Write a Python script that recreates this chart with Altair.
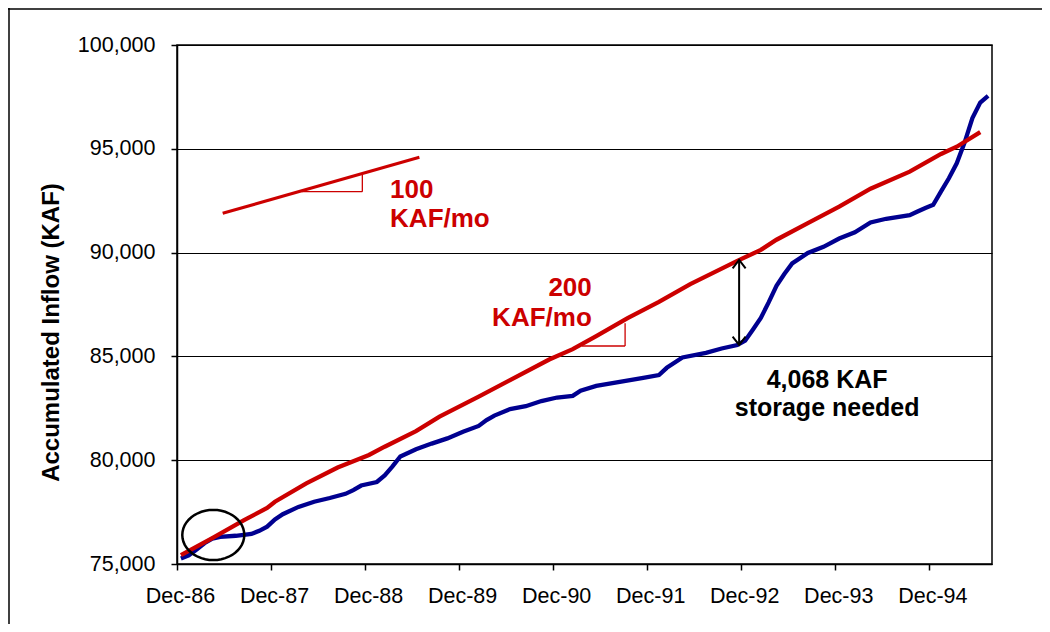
import math
import altair as alt
import pandas as pd

FONT = "Liberation Sans"
RED = "#CC0000"
BLUE = "#000090"

# ---- data (month index 0 = Dec-86) ----
blue_month = [0, 1, 2, 3, 4, 5, 7, 9, 10, 11, 12, 13, 15, 17, 19, 21, 22, 23,
              25, 26, 27, 28, 30, 32, 34, 36, 38, 39, 40, 42, 44, 46, 48, 50,
              51, 53, 56, 59, 61, 62, 64, 67, 69, 71, 72, 73, 74, 75, 76, 77,
              78, 80, 82, 84, 86, 88, 90, 93, 94, 95, 96, 97, 98, 99, 100,
              101, 102, 103]
blue_value = [75270, 75420, 75700, 76000, 76220, 76310, 76360, 76450, 76600,
              76800, 77150, 77400, 77750, 78000, 78180, 78380, 78560, 78780,
              78950, 79270, 79700, 80180, 80530, 80800, 81050, 81370, 81650,
              81930, 82150, 82460, 82600, 82850, 83020, 83100, 83350, 83580,
              83770, 83960, 84100, 84450, 84950, 85170, 85380, 85550, 85760,
              86300, 86850, 87600, 88400, 88970, 89480, 89980, 90280, 90680,
              90980, 91450, 91630, 91800, 91980, 92150, 92300, 92950, 93580,
              94300, 95300, 96480, 97230, 97550]

red_month = [0, 4, 8, 11, 12, 16, 20, 24, 26, 30, 33, 38, 42, 47, 50, 53, 57,
             61, 65, 71, 74, 76, 80, 84, 88, 93, 97, 99, 102]
red_value = [75430, 76250, 77100, 77700, 78000, 78880, 79650, 80250, 80650,
             81400, 82100, 83060, 83860, 84850, 85350, 85980, 86840, 87630,
             88480, 89600, 90130, 90620, 91420, 92210, 93080, 93900, 94750,
             95100, 95800]

tick_months = [0, 12, 24, 36, 48, 60, 72, 84, 96]
tick_labels = ["Dec-86", "Dec-87", "Dec-88", "Dec-89", "Dec-90", "Dec-91",
               "Dec-92", "Dec-93", "Dec-94"]
y_ticks = [75000, 80000, 85000, 90000, 95000, 100000]

# annotation positions (axis month units, KAF)
slope100_x = [5.83, 30.93]
slope100_y = [91893, 94590]
tri_x = [15.92, 23.65, 51.65, 57.18]      # x, x2 for the two triangles
tri_y = [92934, 93738, 85501, 86594]      # y, y2
arrow_x = 71.73
arrow_top = 89650
arrow_bottom = 85550
circle_x, circle_y = 4.63, 76397

texts = ["100\nKAF/mo", "200\nKAF/mo", "4,068 KAF\nstorage needed"]
text_x = [27.19, 52.93, 82.96]
text_y = [92630, 87909, 83492]
text_align = ["left", "right", "center"]
text_color = [RED, RED, "black"]
text_lh = [28.7, 29.7, 28]
text_size = [26, 26, 25]

W, H = 815, 519

series = pd.concat([
    pd.DataFrame({"month": blue_month, "kaf": blue_value, "s": "Inflow"}),
    pd.DataFrame({"month": red_month, "kaf": red_value, "s": "Demand"}),
])
series["x"] = series["month"] + 0.5   # category centre
series = series.rename(columns={"kaf": "y"})

label_expr = "[" + ",".join("'%s'" % t for t in tick_labels) + "][datum.value/12]"

xscale = alt.Scale(domain=[0, 104], nice=False, zero=False)
yscale = alt.Scale(domain=[75000, 100000], nice=False, zero=False)

x_axis = alt.Axis(values=tick_months, labelExpr=label_expr, grid=False,
                  title=None, labelBaseline="alphabetic", labelPadding=32.4,
                  labelOffset=3, labelFlush=False, labelOverlap=False)
y_axis = alt.Axis(values=y_ticks, labelExpr="format(datum.value, ',')",
                  grid=True, labelPadding=16,
                  title="Accumulated Inflow (KAF)", titleAngle=270,
                  titleAlign="center", titleBaseline="alphabetic",
                  titleX=-119, titleY=287)


def X(f="x"):
    return alt.X(f + ":Q", scale=xscale, axis=x_axis)


def Y(f="y"):
    return alt.Y(f + ":Q", scale=yscale, axis=y_axis)


lines = alt.Chart(series).mark_line(strokeWidth=4.3).encode(
    x=X(), y=Y(),
    color=alt.Color("s:N", scale=alt.Scale(domain=["Inflow", "Demand"],
                                           range=[BLUE, RED]), legend=None),
)

slope_df = pd.DataFrame({"x": [slope100_x[0]], "x2": [slope100_x[1]],
                         "y": [slope100_y[0]], "y2": [slope100_y[1]]})
slope = alt.Chart(slope_df).mark_rule(color=RED, strokeWidth=3).encode(
    x=X(), x2="x2:Q", y=Y(), y2="y2:Q")

hz_df = pd.DataFrame({"x": [tri_x[0], tri_x[2]], "x2": [tri_x[1], tri_x[3]],
                      "y": [tri_y[0], tri_y[2]]})
hz = alt.Chart(hz_df).mark_rule(color=RED, strokeWidth=1.3).encode(
    x=X(), x2="x2:Q", y=Y())
vt_df = pd.DataFrame({"x": [tri_x[1], tri_x[3]], "y": [tri_y[0], tri_y[2]],
                      "y2": [tri_y[1], tri_y[3]]})
vt = alt.Chart(vt_df).mark_rule(color=RED, strokeWidth=1.3).encode(
    x=X(), y=Y(), y2="y2:Q")

arrow_df = pd.DataFrame({"x": [arrow_x], "y": [arrow_top], "y2": [arrow_bottom]})
shaft = alt.Chart(arrow_df).mark_rule(color="black", strokeWidth=2).encode(
    x=X(), y=Y(), y2="y2:Q")
head_top = alt.Chart(pd.DataFrame({"x": [arrow_x], "y": [arrow_top]})).mark_point(
    shape="M -1 1.3 L 0 0 L 1 1.3", size=169, filled=False, color="black",
    strokeWidth=2, opacity=1).encode(x=X(), y=Y())
head_bot = alt.Chart(pd.DataFrame({"x": [arrow_x], "y": [arrow_bottom]})).mark_point(
    shape="M -1 -1.3 L 0 0 L 1 -1.3", size=169, filled=False, color="black",
    strokeWidth=2, opacity=1).encode(x=X(), y=Y())

# ellipse outline shape (rx 1, ry 0.81 in symbol units)
pts = []
for k in range(49):
    a = 2 * math.pi * k / 48
    pts.append("%.3f %.3f" % (math.cos(a), 0.81 * math.sin(a)))
ellipse_path = "M " + " L ".join(pts) + " Z"
ellipse = alt.Chart(pd.DataFrame({"x": [circle_x], "y": [circle_y]})).mark_point(
    shape=ellipse_path, size=3844, filled=False, color="black",
    strokeWidth=2.5, opacity=1).encode(x=X(), y=Y())

text_layers = []
for t, tx, ty, al, c, lh, fs in zip(texts, text_x, text_y, text_align,
                                    text_color, text_lh, text_size):
    text_layers.append(
        alt.Chart(pd.DataFrame({"x": [tx], "y": [ty], "t": [t]})).mark_text(
            font=FONT, fontSize=fs, fontWeight="bold", color=c, align=al,
            baseline="alphabetic", lineBreak="\n", lineHeight=lh).encode(
            x=X(), y=Y(), text="t:N"))

one = alt.Data(values=[{"a": 1}])
frame_left = alt.Chart(one).mark_rule(color="black", strokeWidth=1.5).encode(
    x=alt.value(-168), y=alt.value(-37), y2=alt.value(H + 60))
frame_top = alt.Chart(one).mark_rule(color="black", strokeWidth=1.5).encode(
    x=alt.value(-169), x2=alt.value(W + 50), y=alt.value(-36))

chart = alt.layer(
    lines, slope, hz, vt, shaft, head_top, head_bot, ellipse, *text_layers,
    frame_left, frame_top
).properties(
    width=W, height=H,
    autosize=alt.AutoSizeParams(type="none"),
    padding={"left": 169, "top": 37, "right": 50, "bottom": 60},
    background="white",
).configure_view(
    stroke="black", strokeWidth=1.5
).configure_axis(
    labelFont=FONT, labelFontSize=21.5, labelColor="black",
    tickSize=6, tickColor="black", tickWidth=1.5,
    domainColor="black", domainWidth=1.5,
    gridColor="black", gridWidth=1, gridOpacity=1,
    titleFont=FONT, titleFontSize=24, titleFontWeight="bold", titleColor="black",
)

chart.save("out.html", embed_options={"renderer": "svg", "actions": False})
